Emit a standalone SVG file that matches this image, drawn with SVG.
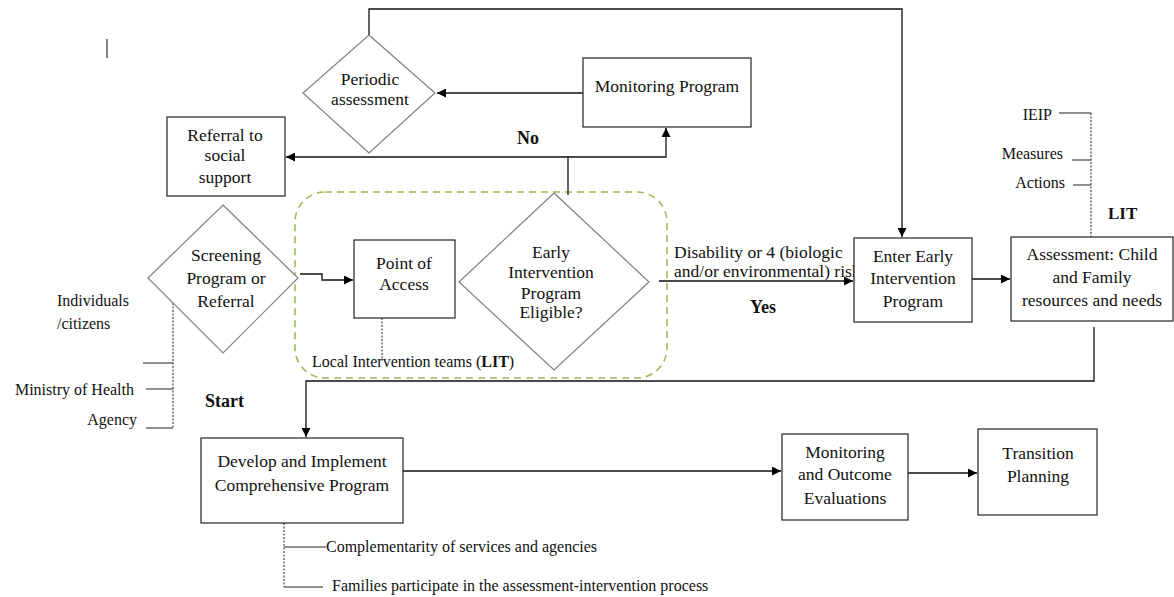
<svg xmlns="http://www.w3.org/2000/svg" width="1174" height="597" viewBox="0 0 1174 597">
<defs>
<marker id="arr" viewBox="0 0 10 10" refX="10" refY="5" markerWidth="9" markerHeight="9" markerUnits="userSpaceOnUse" orient="auto">
<path d="M0,0 L10,5 L0,10 z" fill="#000"/>
</marker>
<style>
text{font-family:"Liberation Serif","Times New Roman",serif;fill:#111;}
.lbl{font-size:17.5px;text-anchor:middle;}
.ann{font-size:16px;}
.b{font-weight:bold;}
.box{fill:#fff;stroke:#222;stroke-width:1.2;}
.dia{fill:#fff;stroke:#7f7f7f;stroke-width:1.2;}
.con{fill:none;stroke:#111;stroke-width:1.3;}
.arrow{marker-end:url(#arr);}
.dot{fill:none;stroke:#222;stroke-width:1;stroke-dasharray:2,1.5;}
.tick{fill:none;stroke:#222;stroke-width:1.2;}
.grp{fill:none;stroke:#9bbb59;stroke-width:1.6;stroke-dasharray:7,5;}
</style>
</defs>
<rect width="1174" height="597" fill="#fff"/>
<line x1="107" y1="39" x2="107" y2="58" stroke="#333" stroke-width="1.2"/>

<g id="lit-group">
<rect class="grp" x="295" y="192" width="372" height="186" rx="30" ry="30"/>
</g>

<g id="annotations">
<text x="674" y="258" font-size="17.5">Disability or 4 (biologic</text>
<text x="674" y="277" font-size="17.5">and/or environmental) risk</text>
<text class="b" x="763" y="313" font-size="18" text-anchor="middle">Yes</text>
<text class="b" x="528" y="144" font-size="18" text-anchor="middle">No</text>
<text class="b" x="205" y="407" font-size="18">Start</text>
<text class="ann" x="57" y="306" font-size="17">Individuals</text>
<text class="ann" x="57" y="329" font-size="17">/citizens</text>
<text class="ann" x="134" y="395" text-anchor="end" font-size="16.5">Ministry of Health</text>
<text class="ann" x="137" y="425" text-anchor="end" font-size="16.5">Agency</text>
<path class="dot" d="M173,303 V428"/>
<path class="tick" d="M143,363 H173 M146,389 H173 M146,428 H173"/>
<text class="ann" x="312" y="367" font-size="16.5">Local Intervention teams (<tspan class="b">LIT</tspan>)</text>
<path class="dot" d="M382,318 V360"/>
<text class="ann" x="1052" y="120" text-anchor="end" font-size="16.5">IEIP</text>
<text class="ann" x="1063" y="159" text-anchor="end" font-size="16.5">Measures</text>
<text class="ann" x="1065" y="188" text-anchor="end" font-size="16.5">Actions</text>
<text class="b" x="1108" y="219" font-size="17">LIT</text>
<path class="dot" d="M1091,113 V237"/>
<path class="tick" d="M1059,113 H1091 M1072,160 H1091 M1073,185 H1091"/>
<path class="dot" d="M284,523 V587"/>
<path class="tick" d="M284,547 H326 M284,587 H323"/>
<text class="ann" x="326" y="552">Complementarity of services and agencies</text>
<text class="ann" x="332" y="591">Families participate in the assessment-intervention process</text>
</g>

<g id="connectors">
<path class="con arrow" d="M369,35 V9 H902 V237"/>
<path class="con arrow" d="M583,93 H437"/>
<path class="con" d="M568,195 V157"/>
<path class="con arrow" d="M568,157 H286"/>
<path class="con arrow" d="M568,157 H666 V128"/>
<path class="con arrow" d="M300,274 H322 V280 H353"/>
<path class="con arrow" d="M659,281 H853"/>
<path class="con arrow" d="M972,279 H1010"/>
<path class="con arrow" d="M1094,327 V381 H306 V437"/>
<path class="con arrow" d="M403,471 H781"/>
<path class="con arrow" d="M908,473 H977"/>
</g>

<g id="periodic">
<polygon class="dia" points="369,35 435,93 369,153 303,93"/>
<text class="lbl" x="370" y="85">Periodic</text>
<text class="lbl" x="370" y="105">assessment</text>
</g>
<g id="monitoring-program">
<rect class="box" x="583" y="58" width="168" height="69"/>
<text class="lbl" x="667" y="92">Monitoring Program</text>
</g>
<g id="referral">
<rect class="box" x="167" y="117" width="118" height="79"/>
<text class="lbl" x="225" y="141">Referral to</text>
<text class="lbl" x="225" y="161">social</text>
<text class="lbl" x="225" y="183">support</text>
</g>
<g id="screening">
<polygon class="dia" points="223,205 298,278 223,353 148,278"/>
<text class="lbl" x="226" y="261">Screening</text>
<text class="lbl" x="226" y="284">Program or</text>
<text class="lbl" x="226" y="307">Referral</text>
</g>
<g id="point-of-access">
<rect class="box" x="354" y="240" width="101" height="78"/>
<text class="lbl" x="404" y="269">Point of</text>
<text class="lbl" x="404" y="290">Access</text>
</g>
<g id="eligible">
<polygon class="dia" points="554,193 649,282 554,370 459,282"/>
<text class="lbl" x="551" y="258">Early</text>
<text class="lbl" x="551" y="278">Intervention</text>
<text class="lbl" x="551" y="299">Program</text>
<text class="lbl" x="551" y="318">Eligible?</text>
</g>
<g id="enter-program">
<rect class="box" x="854" y="238" width="118" height="84"/>
<text class="lbl" x="913" y="262">Enter Early</text>
<text class="lbl" x="913" y="284">Intervention</text>
<text class="lbl" x="913" y="307">Program</text>
</g>
<g id="assessment">
<rect class="box" x="1011" y="237" width="162" height="84"/>
<text class="lbl" x="1092" y="260">Assessment: Child</text>
<text class="lbl" x="1092" y="283">and Family</text>
<text class="lbl" x="1092" y="306">resources and needs</text>
</g>
<g id="develop">
<rect class="box" x="201" y="438" width="202" height="85"/>
<text class="lbl" x="302" y="467">Develop and Implement</text>
<text class="lbl" x="302" y="491">Comprehensive Program</text>
</g>
<g id="monitoring-outcome">
<rect class="box" x="782" y="434" width="126" height="86"/>
<text class="lbl" x="845" y="458">Monitoring</text>
<text class="lbl" x="845" y="480">and Outcome</text>
<text class="lbl" x="845" y="504">Evaluations</text>
</g>
<g id="transition">
<rect class="box" x="978" y="429" width="119" height="86"/>
<text class="lbl" x="1038" y="459">Transition</text>
<text class="lbl" x="1038" y="482">Planning</text>
</g>
</svg>
